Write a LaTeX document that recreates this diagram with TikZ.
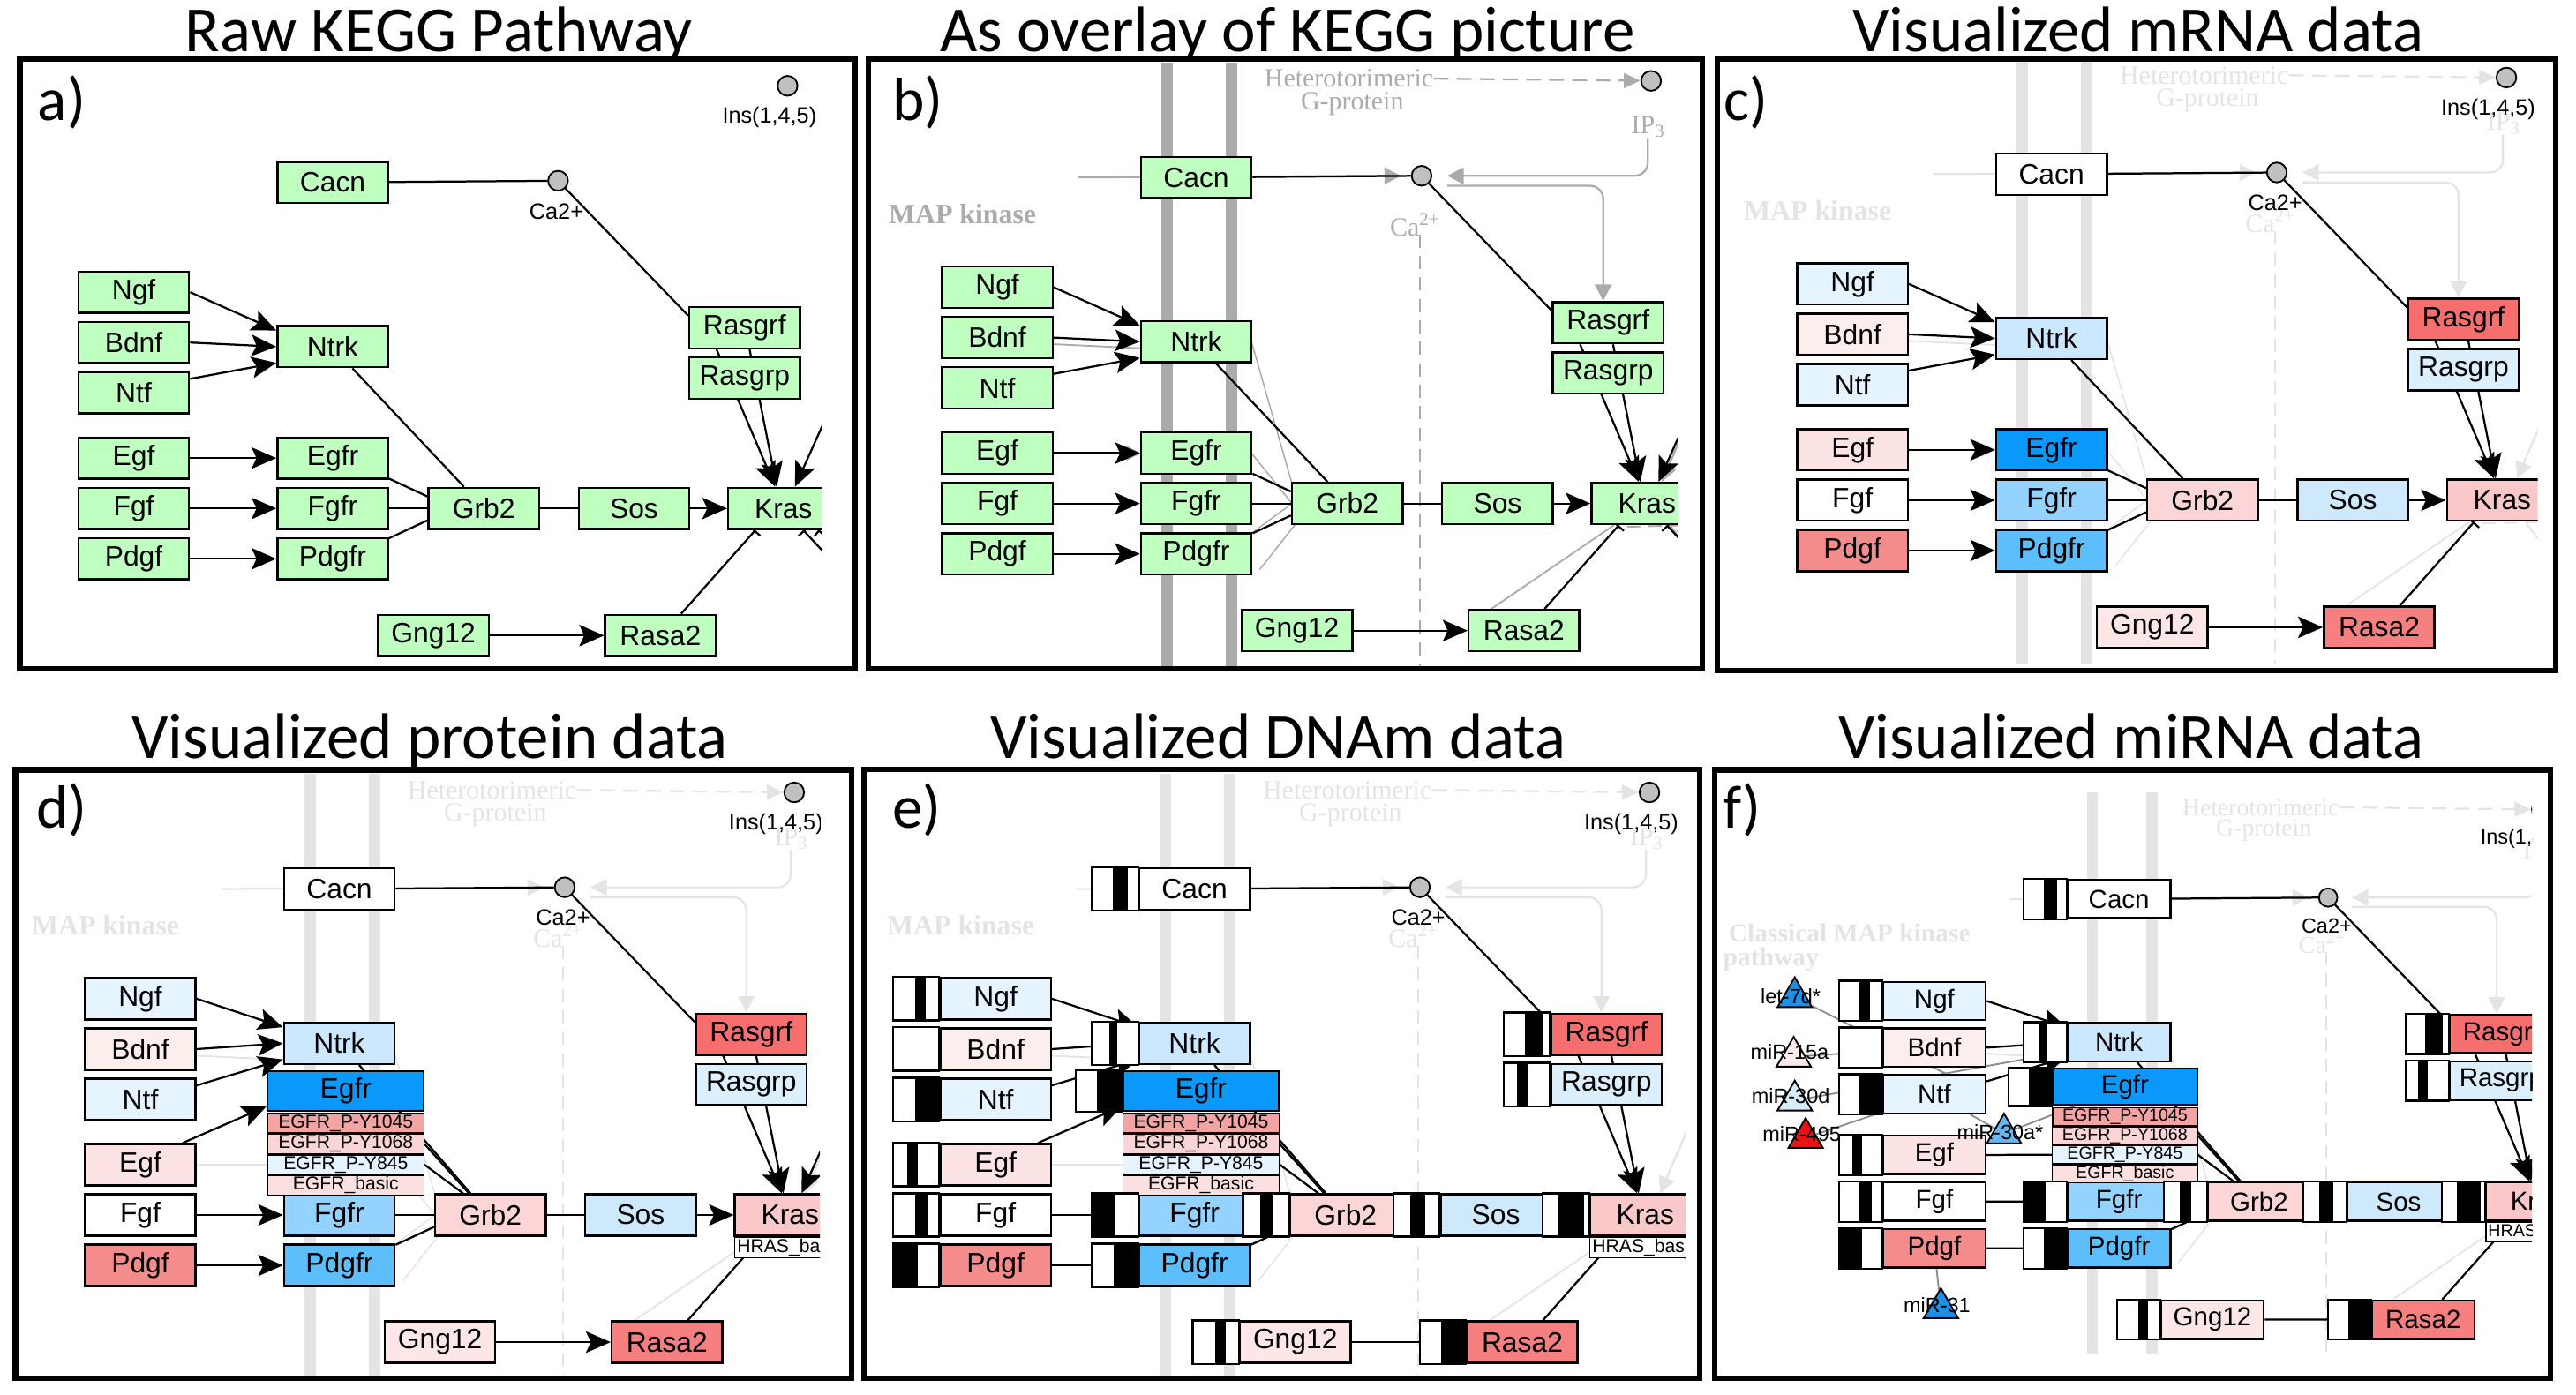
\documentclass[tikz,border=0pt]{standalone}
\usepackage{fontspec}
\setmainfont{Liberation Sans}
\newfontfamily\headfont{Carlito}
\newfontfamily\keggserif{Liberation Serif}
\usetikzlibrary{arrows.meta, calc, positioning, shapes.geometric}

\pgfdeclarelayer{bg}
\pgfdeclarelayer{edges}
\pgfsetlayers{bg,edges,main}

\definecolor{kgreen}{HTML}{BFFFBF}
\definecolor{kgrey}{HTML}{ABABAB}
\definecolor{kfade}{HTML}{E4E4E4}
\definecolor{cpdgrey}{HTML}{C0C0C0}
% expression colours
\definecolor{cCacn}{HTML}{FFFFFF}
\definecolor{cNgf}{HTML}{E6F4FF}
\definecolor{cBdnf}{HTML}{FDEEEE}
\definecolor{cNtf}{HTML}{E6F4FF}
\definecolor{cNtrk}{HTML}{CCE8FF}
\definecolor{cEgf}{HTML}{FCE4E4}
\definecolor{cEgfr}{HTML}{0A98FA}
\definecolor{cFgf}{HTML}{FFFFFF}
\definecolor{cFgfr}{HTML}{94D3FF}
\definecolor{cPdgf}{HTML}{F58C8C}
\definecolor{cPdgfr}{HTML}{5CBEFA}
\definecolor{cGrb2}{HTML}{FCD6D6}
\definecolor{cSos}{HTML}{CDE9FB}
\definecolor{cKras}{HTML}{FAC8C8}
\definecolor{cRasgrf}{HTML}{F76E6E}
\definecolor{cRasgrp}{HTML}{DCEFFD}
\definecolor{cGng12}{HTML}{FDE6E6}
\definecolor{cRasa2}{HTML}{F68080}
\definecolor{cYa}{HTML}{F4A3A3}
\definecolor{cYb}{HTML}{FBD5D5}
\definecolor{cYc}{HTML}{E6F4FF}
\definecolor{cYd}{HTML}{FCE0E0}
% miRNA colours
\definecolor{mBlue}{HTML}{1E8FE6}
\definecolor{mPink}{HTML}{FDEAEA}
\definecolor{mLight}{HTML}{D9ECFA}
\definecolor{mRed}{HTML}{EE1111}
\definecolor{mMid}{HTML}{6AB6EE}

\tikzset{
  gene/.style={draw=black, line width=1.3pt, minimum width=67pt, minimum height=25pt, inner sep=0pt, font=\fontsize{17}{17}\selectfont},
  expr/.style={fill=#1},
  site/.style={draw=black, line width=0.8pt, minimum width=94.6pt, minimum height=11.7pt, inner sep=0pt, font=\fontsize{11.3}{11.3}\selectfont},
  cpd/.style={circle, draw=black, fill=cpdgrey, line width=1pt, minimum size=12pt, inner sep=0pt},
  cpdtext/.style={font=\fontsize{13.5}{13.5}\selectfont, inner sep=0pt},
  bond/.style={line width=1.2pt},
  act/.style={line width=1.2pt, -{Stealth[length=15pt, width=13pt, inset=3pt]}},
  inhib/.style={line width=1.2pt, -{Bar[width=9pt]}},
  meth/.style={draw=black, fill=white, line width=1.2pt},
  kegglabel/.style={font=\keggserif\fontsize{16}{16}\selectfont, inner sep=0pt},
  mapkin/.style={font=\keggserif\bfseries\fontsize{17}{17}\selectfont, inner sep=0pt},
  mirna/.style={regular polygon, regular polygon sides=3, draw=black, line width=1pt, minimum size=26pt, inner sep=0pt},
  mirtext/.style={font=\fontsize{13.5}{13.5}\selectfont, inner sep=0pt},
  mirlink/.style={draw=black!45, line width=1pt},
  panel/.style={draw=black, line width=3.3pt},
  heading/.style={font=\headfont\fontsize{39}{39}\selectfont, anchor=base, inner sep=0pt},
  paneltag/.style={font=\headfont\fontsize{37}{37}\selectfont, inner sep=0pt},
}

% genes shared by every panel
\newcommand\genesbase{%
  \node[gene, expr=cCacn] (Cacn) at (201.5,110.5) {Cacn};
  \node[gene, expr=cNgf] (Ngf) at (81,177) {Ngf};
  \node[gene, expr=cBdnf] (Bdnf) at (81,207.5) {Bdnf};
  \node[gene, expr=cNtf] (Ntf) at (81,238) {Ntf};
  \node[gene, expr=cEgf] (Egf) at (81,277.5) {Egf};
  \node[gene, expr=cFgf] (Fgf) at (81,308) {Fgf};
  \node[gene, expr=cPdgf] (Pdgf) at (81,338.5) {Pdgf};
  \node[gene, expr=cFgfr] (Fgfr) at (201.5,308) {Fgfr};
  \node[gene, expr=cPdgfr] (Pdgfr) at (201.5,338.5) {Pdgfr};
  \node[gene, expr=cGrb2] (Grb2) at (293,308) {Grb2};
  \node[gene, expr=cSos] (Sos) at (384,308) {Sos};
  \node[gene, expr=cKras] (Kras) at (474.5,308) {Kras};
  \node[gene, expr=cRasgrf] (Rasgrf) at (451,198.5) {Rasgrf};
  \node[gene, expr=cRasgrp] (Rasgrp) at (451,229) {Rasgrp};
  \node[gene, expr=cGng12] (Gng12) at (262.5,385) {Gng12};
  \node[gene, expr=cRasa2] (Rasa2) at (400,385) {Rasa2};
  \node[cpd] (Ca) at (338,109.5) {};
  \node[cpd] (Ins) at (477,52) {};
}
% KEGG placement of Ntrk and Egfr
\newcommand\genesflat{%
  \node[gene, expr=cNtrk] (Ntrk) at (201.5,210) {Ntrk};
  \node[gene, expr=cEgfr] (Egfr) at (201.5,277.5) {Egfr};
}
% Egfr with its phospho sites
\newcommand\genesstacked{%
  \node[gene, expr=cNtrk] (Ntrk) at (201.5,204) {Ntrk};
  \node[gene, expr=cEgfr, minimum width=94.6pt, minimum height=24pt] (Egfr) at (205.4,233) {Egfr};
  \node[site, fill=cYa, below=0.6pt of Egfr] (Y1045) {EGFR\_P-Y1045};
  \node[site, fill=cYb, below=0pt of Y1045] (Y1068) {EGFR\_P-Y1068};
  \node[site, fill=cYc, below=0pt of Y1068] (Y845) {EGFR\_P-Y845};
  \node[site, fill=cYd, below=0pt of Y845] (Ybasic) {EGFR\_basic};
  \node[site, fill=white, minimum width=67pt, minimum height=12.5pt, below=0pt of Kras] (Hras) {HRAS\_basic};
}
\newcommand\cpdlabels{%
  \node[cpdtext] (CaTxt) at (337,128) {Ca2+};
  \node[cpdtext] (InsTxt) at (466,71) {Ins(1,4,5)};
}
\newcommand\linksbase{%
  \draw[bond] (Cacn) -- (Ca);
  \draw[bond] (Ca) -- (Rasgrf.168);
  \draw[act] (Ngf.east) -- (Ntrk.164);
  \draw[act] (Bdnf.east) -- (Ntrk.west);
  \draw[act] (Ntf.14) -- (Ntrk.196);
  \draw[bond] ($(Ntrk.south)+(12,0)$) -- ($(Grb2.north)+(-12,0)$);
  \draw[act] (Fgf) -- (Fgfr);
  \draw[act] (Pdgf) -- (Pdgfr);
  \draw[bond] (Fgfr) -- (Grb2);
  \draw[bond] (Pdgfr.20) -- (Grb2.192);
  \draw[bond] (Grb2) -- (Sos);
  \draw[act] (Sos) -- (Kras);
  \draw[act] ($(Rasgrf.south)+(-17,0)$) -- ($(Kras.north)+(-5,0)$);
  \draw[act] ($(Rasgrf.south)+(3,0)$) -- ($(Kras.north)+(-4,0)$);
  \draw[act] (Gng12) -- (Rasa2);
  \draw[inhib] ($(Rasa2.north)+(12.5,0)$) -- ($(Kras.south)+(-17,0)$);
}
\newcommand\linksflat{%
  \draw[act] (Egf) -- (Egfr);
  \draw[bond] (Egfr.-20) -- (Grb2.168);
}
\newcommand\linksstacked{%
  \draw[bond] (Y1068.east) -- ($(Grb2.north)+(-13,0)$);
  \draw[bond] (Y845.east) -- ($(Grb2.north)+(-16.5,0)$);
}
\newcommand\linksegf{%
  \draw[act] ($(Egf.north east)+(-8.5,0)$) -- ($(Egfr.south west)+(0,-3.5)$);
}
\newcommand\linksoff{%
  \coordinate (KrasUp) at (507,238);
  \draw[act] (KrasUp) -- ($(Kras.north)+(7,0)$);
}
\newcommand\linksbars{%
  \coordinate (KrasDn) at (506,342);
  \coordinate (KrasDnB) at (514,336);
  \draw[inhib] (KrasDn) -- ($(Kras.south)+(12,0)$);
  \draw[inhib] (KrasDnB) -- ($(Kras.south)+(21,0)$);
}
% faded KEGG picture behind the genes
\newcommand\keggbg[1]{%
  \fill[#1] (180.5,41) rectangle (187.5,407);
  \fill[#1] (219.5,41) rectangle (226.5,407);
  \draw[#1, line width=1pt, dash pattern=on 8pt off 5pt] (337,145) -- (337,407);
  \node[kegglabel, text=#1] (Hetero) at (294,50.6) {Heterotorimeric};
  \node[kegglabel, text=#1] (Gprot) at (296,66) {G-protein};
  \node[kegglabel, text=#1] (IPthree) at (475,80) {IP\raisebox{-0.3ex}{\fontsize{11}{11}\selectfont 3}};
  \node[kegglabel, text=#1] (CaKegg) at (334,139) {Ca\textsuperscript{2+}};
  \draw[#1, line width=1.2pt, dash pattern=on 9pt off 5pt, -{Triangle[length=10pt, width=9pt]}] (Hetero.east) -- (Ins);
  \draw[#1, line width=1.2pt, rounded corners=8pt, -{Triangle[length=10pt, width=10pt]}] (IPthree.south) |- ($(Ca.east)+(9,0)$);
  \draw[#1, line width=1.2pt, rounded corners=8pt, -{Triangle[length=10pt, width=10pt]}] ($(Ca.east)+(9,6)$) -| ($(Rasgrf.north)+(-3,0)$);
  \draw[#1, line width=1.2pt, -{Triangle[length=10pt, width=10pt]}] (130,110.5) -- ($(Ca.west)+(-6,0)$);
  \draw[#1, line width=1pt] ($(Bdnf.east)+(0,4)$) -- (168,214);
  \draw[#1, line width=1pt, -{Triangle[length=9pt, width=9pt]}] (Egf.east) -- (168,277.5);
  \draw[#1, line width=0.8pt] (235,210) -- (259.5,296);
  \draw[#1, line width=0.8pt] (235,277.5) -- (259.5,308);
  \draw[#1, line width=0.8pt] (235,326) -- (259.5,308);
  \draw[#1, line width=0.8pt] (240,348) -- (262,320);
  \draw[#1, line width=1.2pt, -{Triangle[length=10pt, width=10pt]}] (507,240) -- ($(Kras.north)+(9,0)$);
  \draw[#1, line width=1pt] (380,372) -- ($(Kras.south)+(-20,0)$);
  \draw[#1, line width=1pt, dash pattern=on 8pt off 5pt] ($(Kras.south)+(-12,1)$) -- (505,321);
  \draw[#1, line width=1pt] (510,350) -- ($(Kras.south)+(14,0)$);
}
% methylation bars left of each gene
\newcommand\methylation{%
  \foreach \g/\lo/\hi in {Cacn/.46/.77, Ngf/.48/.71, Bdnf/0/0, Ntf/.48/1, Egf/.31/.54, Fgf/.48/.77, Pdgf/0/.54, Ntrk/.37/.54, Egfr/.47/1, Fgfr/0/.5, Pdgfr/.47/1, Grb2/.37/.64, Sos/.37/.7, Kras/.34/.9, Rasgrf/.45/.85, Rasgrp/.28/.51, Gng12/.49/.72, Rasa2/.47/1}{
    \draw[meth] ($(\g.north west)+(-28,0)$) rectangle (\g.south west);
    \fill ($(\g.north west)+({-28+28*\lo},0)$) rectangle ($(\g.south west)+({-28+28*\hi},0)$);
  }
}

\begin{document}
\begin{tikzpicture}[x=1pt, y=-1pt]
\useasboundingbox (0,0) rectangle (1560.2,845);

% a) raw pathway
\begin{scope}[expr/.style={fill=kgreen}]
  \begin{scope}
    \clip (12,36) rectangle (498,405);
    \genesbase \genesflat \cpdlabels
  \end{scope}
  \begin{pgfonlayer}{edges}\begin{scope}
    \clip (12,36) rectangle (498,405);
    \linksbase \linksflat \linksoff \linksbars
  \end{scope}\end{pgfonlayer}
\end{scope}

% b) overlay
\begin{scope}[shift={(523,-3)}, expr/.style={fill=kgreen}]
  \begin{scope}
    \clip (2.8,39) rectangle (493,408);
    \genesbase \genesflat
  \end{scope}
  \begin{pgfonlayer}{bg}\begin{scope}
    \clip (2.8,39) rectangle (493,408);
    \keggbg{kgrey}
    \node[mapkin, text=kgrey, anchor=east] (MapK) at (104.7,132.6) {MAP kinase};
  \end{scope}\end{pgfonlayer}
  \begin{pgfonlayer}{edges}\begin{scope}
    \clip (2.8,39) rectangle (493,408);
    \linksbase \linksflat \linksoff \linksbars
  \end{scope}\end{pgfonlayer}
\end{scope}

% c) mRNA
\begin{scope}[shift={(1041,-5)}]
  \begin{scope}
    \clip (-1,41) rectangle (496,411);
    \genesbase \genesflat \cpdlabels
  \end{scope}
  \begin{pgfonlayer}{bg}\begin{scope}
    \clip (-1,41) rectangle (496,411);
    \keggbg{kfade}
    \node[mapkin, text=kfade, anchor=east] (MapK) at (104.7,132.6) {MAP kinase};
  \end{scope}\end{pgfonlayer}
  \begin{pgfonlayer}{edges}\begin{scope}
    \clip (-1,41) rectangle (496,411);
    \linksbase \linksflat
  \end{scope}\end{pgfonlayer}
\end{scope}

% d) protein
\begin{scope}[shift={(4,428)}]
  \begin{scope}
    \clip (5.4,38.3) rectangle (492.6,407);
    \genesbase \genesstacked \cpdlabels
  \end{scope}
  \begin{pgfonlayer}{bg}\begin{scope}
    \clip (5.4,38.3) rectangle (492.6,407);
    \keggbg{kfade}
    \node[mapkin, text=kfade, anchor=east] (MapK) at (104.7,132.6) {MAP kinase};
  \end{scope}\end{pgfonlayer}
  \begin{pgfonlayer}{edges}\begin{scope}
    \clip (5.4,38.3) rectangle (492.6,407);
    \linksbase \linksstacked \linksegf \linksoff
  \end{scope}\end{pgfonlayer}
\end{scope}

% e) DNA methylation
\begin{scope}[shift={(522,428)}]
  \begin{scope}
    \clip (1.5,38) rectangle (499,407);
    \genesbase \genesstacked \methylation \cpdlabels
  \end{scope}
  \begin{pgfonlayer}{bg}\begin{scope}
    \clip (1.5,38) rectangle (499,407);
    \keggbg{kfade}
    \node[mapkin, text=kfade, anchor=east] (MapK) at (104.7,132.6) {MAP kinase};
  \end{scope}\end{pgfonlayer}
  \begin{pgfonlayer}{edges}\begin{scope}
    \clip (1.5,38) rectangle (499,407);
    \linksbase \linksstacked \linksegf
  \end{scope}\end{pgfonlayer}
\end{scope}

% f) miRNA
\begin{scope}[shift={(1096.4,442.1)}, scale=0.928, transform shape]
  \begin{scope}
    \clip (-62.3,26.1) rectangle (471,423.4);
    \genesbase \genesstacked \methylation \cpdlabels
    \node[mirna, fill=mBlue] (Let7d) at (-10.1,174.5) {};
    \node[mirna, fill=mPink] (Mir15a) at (-10.8,213.4) {};
    \node[mirna, fill=mLight] (Mir30d) at (-10.1,242) {};
    \node[mirna, fill=mRed] (Mir495) at (-3,266.4) {};
    \node[mirna, fill=mMid] (Mir30a) at (126.5,263.5) {};
    \node[mirna, fill=mBlue] (Mir31) at (85.3,377.5) {};
    \node[mirtext] at (-12.8,174) {let-7d*};
    \node[mirtext] at (-13.5,210) {miR-15a};
    \node[mirtext] at (-12.8,239) {miR-30d};
    \node[mirtext] at (-5.6,264) {miR-495};
    \node[mirtext] at (123.9,262.8) {miR-30a*};
    \node[mirtext] at (82.7,375.3) {miR-31};
  \end{scope}
  \begin{pgfonlayer}{bg}\begin{scope}
    \clip (-62.3,26.1) rectangle (471,423.4);
    \keggbg{kfade}
    \node[mapkin, text=kfade, anchor=east] (MapK) at (104.7,132.6) {Classical MAP kinase};
    \node[mapkin, text=kfade, anchor=west] (MapPath) at (-57,150) {pathway};
  \end{scope}\end{pgfonlayer}
  \begin{pgfonlayer}{edges}\begin{scope}
    \clip (-62.3,26.1) rectangle (471,423.4);
    \linksbase \linksstacked
    \draw[bond] (Egf.east) -- (Y845.west);
    \draw[mirlink] (Let7d) -- (Ntf.east);
    \draw[mirlink] (Mir15a) -- (Bdnf);
    \draw[mirlink] (Mir30d) -- (Ntrk);
    \draw[mirlink] (Mir495) -- (Ntf);
    \draw[mirlink] (Mir30a) -- (Ntf);
    \draw[mirlink] (Mir30a) -- (Egfr);
    \draw[mirlink] (Mir31) -- (Pdgf);
  \end{scope}\end{pgfonlayer}
\end{scope}

% frames, headings and panel letters
\draw[panel] (12,36) rectangle (518,405);
\draw[panel] (525.8,36) rectangle (1031.2,405);
\draw[panel] (1040,36) rectangle (1548,406);
\draw[panel] (9.4,466.3) rectangle (516,835);
\draw[panel] (523.5,466) rectangle (1029.4,835);
\draw[panel] (1038.6,466.3) rectangle (1544.7,835);
\node[heading] (TitleA) at (265.8,31.5) {Raw KEGG Pathway};
\node[heading] (TitleB) at (779.8,31.5) {As overlay of KEGG picture};
\node[heading] (TitleC) at (1295,31.5) {Visualized mRNA data};
\node[heading] (TitleD) at (260.5,459.6) {Visualized protein data};
\node[heading] (TitleE) at (774,459.6) {Visualized DNAm data};
\node[heading] (TitleF) at (1290.7,459.6) {Visualized miRNA data};
\node[paneltag] (TagA) at (37.4,62) {a)};
\node[paneltag] (TagB) at (555.8,62) {b)};
\node[paneltag] (TagC) at (1057.6,62) {c)};
\node[paneltag] (TagD) at (37.4,490.4) {d)};
\node[paneltag] (TagE) at (555.2,490.4) {e)};
\node[paneltag] (TagF) at (1055.3,490.4) {f)};
\end{tikzpicture}
\end{document}
